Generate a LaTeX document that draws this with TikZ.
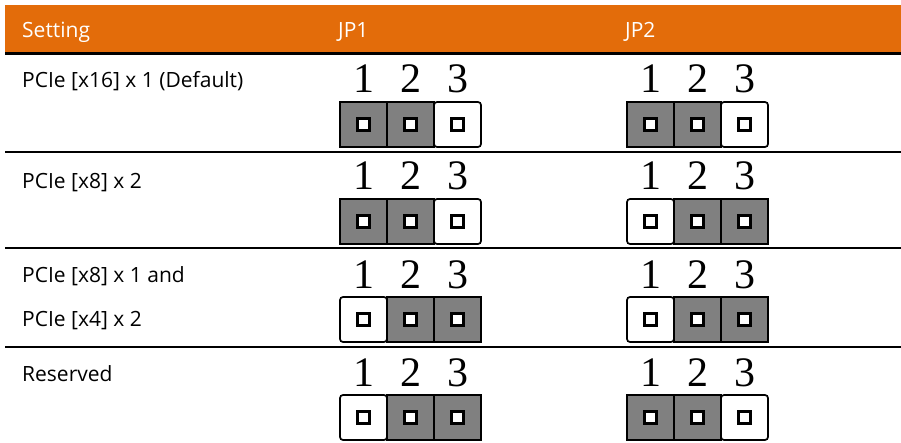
\documentclass[tikz,border=0pt]{standalone}
\usepackage{fontspec}
\setmainfont{Open Sans}
\newfontfamily\digitfont{Liberation Serif}
\definecolor{hdr}{HTML}{E36C0A}
\definecolor{pin}{HTML}{808080}
\tikzset{
  hdrtext/.style={anchor=base west,text=white,font=\fontsize{21}{21}\selectfont,inner sep=0pt},
  rowtext/.style={anchor=base west,text=black,font=\fontsize{21}{21}\selectfont,inner sep=0pt},
  digit/.style={anchor=base,font=\digitfont\fontsize{42}{42}\selectfont,inner sep=0pt},
  rule/.style={line width=2pt,black},
  cellline/.style={line width=1.7pt,black},
  hole/.style={line width=2.4pt,black,fill=white}
}
% #1 name, #2 left x, #3 top y, #4 index of white (open) cell
\newcommand\jumperblock[4]{%
  \foreach \i in {1,2,3}{%
    \pgfmathsetmacro\cx{#2+47*(\i-1)+23.5}%
    \node[digit] (#1d\i) at (\cx,#3-9) {\i};
    \ifnum\i=#4\relax
      \draw[cellline,fill=white,rounded corners=3pt] (#2+47*\i-47,#3) rectangle (#2+47*\i,#3+45);
    \else
      \draw[cellline,fill=pin] (#2+47*\i-47,#3) rectangle (#2+47*\i,#3+45);
    \fi
    \draw[hole] (\cx-6,#3+22.5-6) rectangle (\cx+6,#3+22.5+6);
  }%
}
\begin{document}
\begin{tikzpicture}[x=1pt,y=-1pt]
\useasboundingbox (0,0) rectangle (901,443);
% header
\fill[hdr] (5,5) rectangle (901,53);
\draw[line width=3pt] (5,54) -- (901,54);
\node[hdrtext] (hset) at (22,38) {Setting};
\node[hdrtext] (hjp1) at (338,38) {JP1};
\node[hdrtext] (hjp2) at (625,38) {JP2};
% row rules
\draw[rule] (5,152) -- (901,152);
\draw[rule] (5,248) -- (901,248);
\draw[rule] (5,347) -- (901,347);
% row labels
\node[rowtext] (r1) at (22,88) {PCIe [x16] x 1 (Default)};
\node[rowtext] (r2) at (22,189) {PCIe [x8] x 2};
\node[rowtext] (r3a) at (22,283) {PCIe [x8] x 1 and};
\node[rowtext] (r3b) at (22,326) {PCIe [x4] x 2};
\node[rowtext] (r4) at (22,381) {Reserved};
% jumpers
\jumperblock{a1}{340}{102}{3}
\jumperblock{b1}{627}{102}{3}
\jumperblock{a2}{340}{199}{3}
\jumperblock{b2}{627}{199}{1}
\jumperblock{a3}{340}{297}{1}
\jumperblock{b3}{627}{297}{1}
\jumperblock{a4}{340}{395}{1}
\jumperblock{b4}{627}{395}{3}
\end{tikzpicture}
\end{document}
